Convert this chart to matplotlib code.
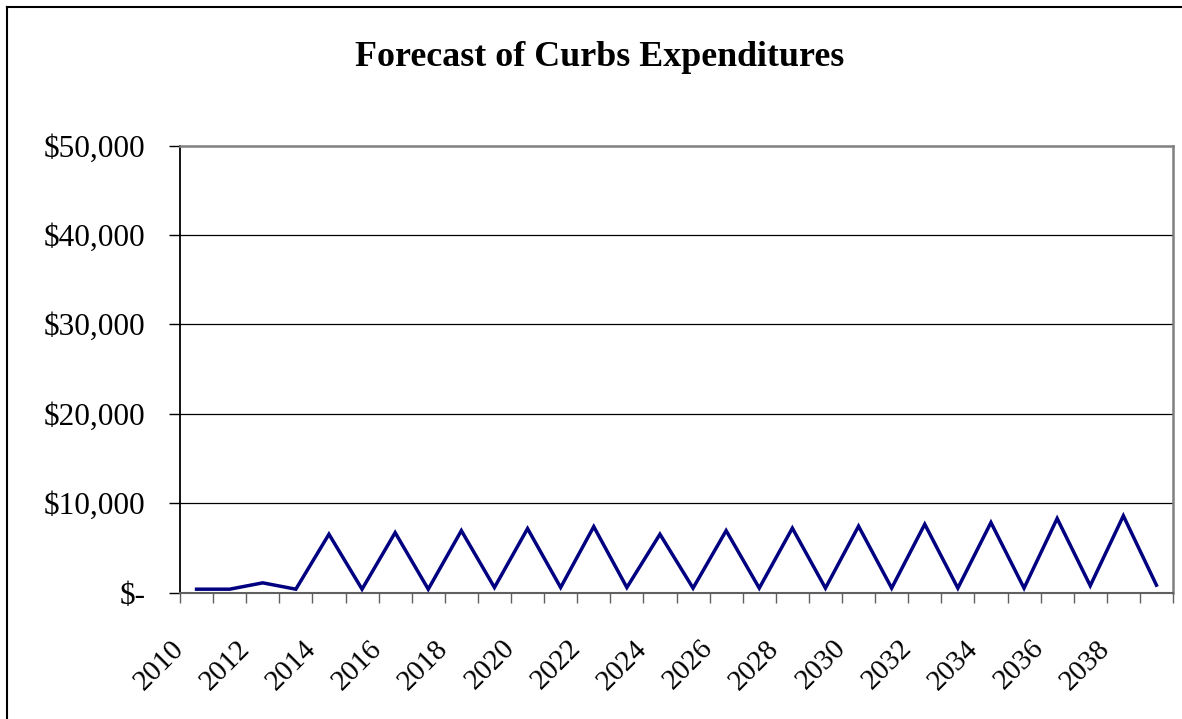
import matplotlib
matplotlib.use("Agg")
import matplotlib.pyplot as plt
import matplotlib.transforms as mtransforms
from matplotlib.lines import Line2D
from matplotlib.ticker import FuncFormatter, FixedLocator

# Forecast data
years = list(range(2010, 2040))
expenditures = [370, 370, 1080, 370, 6520, 370, 6700, 370, 6920, 560,
                7150, 560, 7370, 560, 6520, 490, 6920, 490, 7200, 490,
                7420, 490, 7640, 490, 7830, 490, 8280, 760, 8580, 820]
y_ticks = [0, 10000, 20000, 30000, 40000, 50000]
title = "Forecast of Curbs Expenditures"

W, H, DPI = 1182, 719, 100
plt.rcParams['font.family'] = ['Liberation Serif', 'DejaVu Serif']

fig = plt.figure(figsize=(W / DPI, H / DPI), dpi=DPI)
fig.patch.set_facecolor('white')

left, right, top, bottom = 180, 1173, 145.5, 592.5
ax = fig.add_axes([left / W, 1 - bottom / H, (right - left) / W, (bottom - top) / H])

x = list(range(len(years)))
ax.plot(x, expenditures, color='#000080', lw=2.5, solid_joinstyle='miter', zorder=3)

ax.set_xlim(-0.5, len(years) - 0.5)
ax.set_ylim(0, 50000)

# horizontal gridlines
for v in y_ticks[1:-1]:
    ax.axhline(v, color='black', lw=0.9, zorder=1)

# spines
for s in ('top', 'right'):
    ax.spines[s].set_color('#808080')
    ax.spines[s].set_linewidth(1.8)
ax.spines['left'].set_color('black')
ax.spines['left'].set_linewidth(1.3)
ax.spines['bottom'].set_color('#606060')
ax.spines['bottom'].set_linewidth(1.5)

# y axis
ax.set_yticks(y_ticks)
ax.yaxis.set_major_formatter(FuncFormatter(lambda v, p: "$-" if v == 0 else f"${v:,.0f}"))
ax.tick_params(axis='y', direction='out', length=8, width=1.0, color='black',
               labelsize=22.5, pad=17)

# x axis: ticks between categories, labels every other year
ax.xaxis.set_major_locator(FixedLocator([i - 0.5 for i in range(len(years) + 1)]))
ax.xaxis.set_major_formatter(FuncFormatter(lambda v, p: ""))
label_pos = x[::2]
ax.xaxis.set_minor_locator(FixedLocator(label_pos))
ax.set_xticklabels([str(years[i]) for i in label_pos], minor=True)
ax.tick_params(axis='x', which='major', direction='out', length=7.5, width=1.0, color='#606060')
ax.tick_params(axis='x', which='minor', length=0, labelsize=21, pad=0)
offset = mtransforms.ScaledTranslation(-17 / DPI, -52 / DPI, fig.dpi_scale_trans)
for lbl in ax.xaxis.get_minorticklabels():
    lbl.set_rotation(45)
    lbl.set_ha('right')
    lbl.set_va('center')
    lbl.set_rotation_mode('anchor')
    lbl.set_transform(lbl.get_transform() + offset)

fig.text(600 / W, 1 - 58 / H, title, ha='center', va='center',
         fontsize=25.8, fontweight='bold')

# chart border
fig.add_artist(Line2D([7 / W, 7 / W], [0, 1 - 7 / H], transform=fig.transFigure,
                      color='black', lw=1.5))
fig.add_artist(Line2D([7 / W, 1], [1 - 7 / H, 1 - 7 / H], transform=fig.transFigure,
                      color='black', lw=1.5))

fig.savefig("out.png", dpi=DPI)
